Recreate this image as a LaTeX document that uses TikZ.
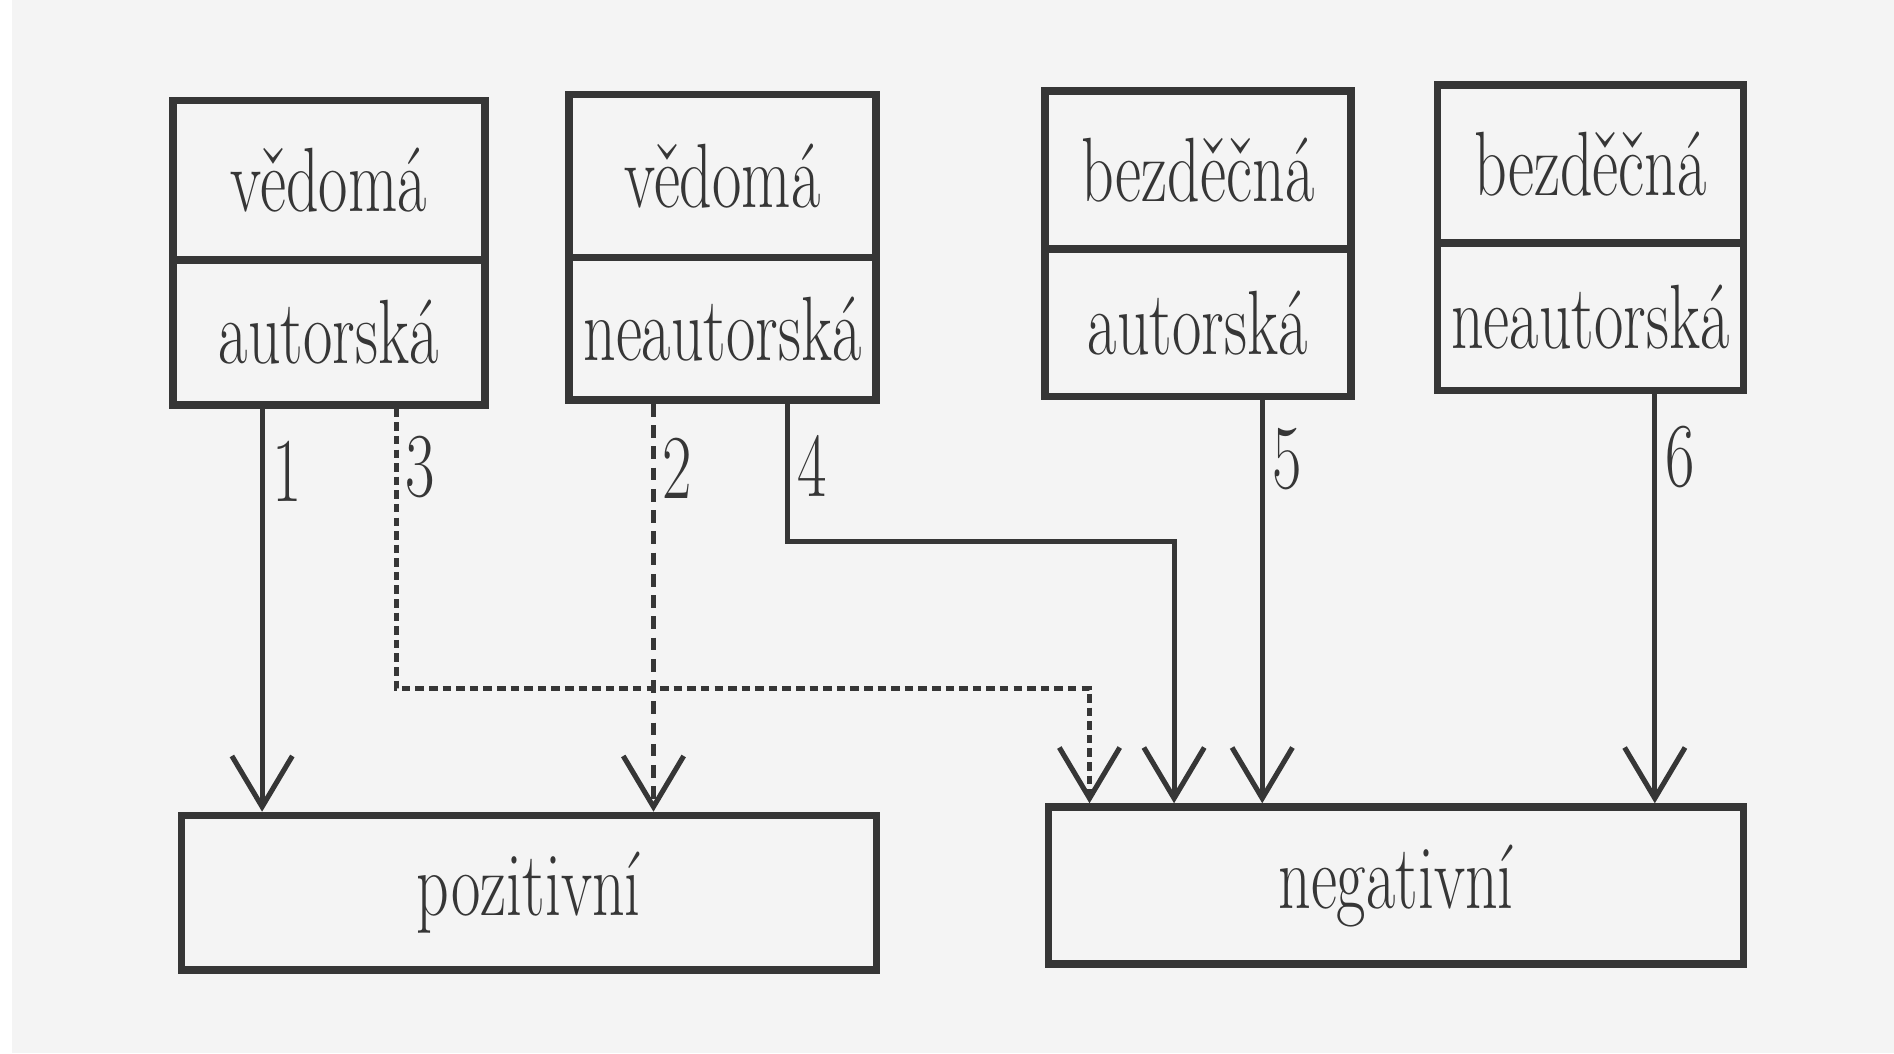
\documentclass[tikz,border=0pt]{standalone}
\usepackage{fontspec}
\usepackage{graphicx}
\usetikzlibrary{arrows.meta}
\definecolor{ink}{HTML}{363636}
\definecolor{paper}{HTML}{F4F4F4}
\newcommand\narrowtxt[1]{\scalebox{0.7}[1]{#1}}
\begin{document}
\begin{tikzpicture}[x=0.01cm,y=-0.01cm,
  cell/.style={draw=ink, line width=1.8pt, inner sep=0pt, anchor=north west,
    text=ink, font=\fontsize{21.5}{25}\selectfont},
  lab/.style={text=ink, inner sep=0pt, font=\fontsize{21.5}{25}\selectfont},
  conn/.style={draw=ink, line width=1.2pt,
    -{Straight Barb[length=0.42cm,width=0.5cm,line width=1.2pt]}},
  dashedconn/.style={conn, dash pattern=on 3pt off 2pt},
  dottedconn/.style={conn, dash pattern=on 2pt off 1.2pt}]
\useasboundingbox (0,0) rectangle (1568,872);
\fill[paper] (0,0) rectangle (1568,872);
\fill[white] (0,0) rectangle (10,872);

% upper boxes
\node[cell, minimum width=2.58cm, minimum height=1.32cm] (v1) at (140,80) {\narrowtxt{vědomá}};
\node[cell, minimum width=2.58cm, minimum height=1.20cm] (a1) at (140,212) {\narrowtxt{autorská}};
\node[cell, minimum width=2.54cm, minimum height=1.35cm] (v2) at (468,75) {\narrowtxt{vědomá}};
\node[cell, minimum width=2.54cm, minimum height=1.18cm] (a2) at (468,210) {\narrowtxt{neautorská}};
\node[cell, minimum width=2.53cm, minimum height=1.31cm] (v3) at (862,72) {\narrowtxt{bezděčná}};
\node[cell, minimum width=2.53cm, minimum height=1.22cm] (a3) at (862,203) {\narrowtxt{autorská}};
\node[cell, minimum width=2.53cm, minimum height=1.31cm] (v4) at (1187,67) {\narrowtxt{bezděčná}};
\node[cell, minimum width=2.53cm, minimum height=1.22cm] (a4) at (1187,198) {\narrowtxt{neautorská}};

% lower boxes
\node[cell, minimum width=5.75cm, minimum height=1.28cm] (pos) at (147,672) {\narrowtxt{pozitivní}};
\node[cell, minimum width=5.75cm, minimum height=1.30cm] (neg) at (865,665) {\narrowtxt{negativní}};

% columns and bends
\coordinate (c1) at (217,0);
\coordinate (c2) at (541,0);
\coordinate (c3) at (328,570);
\coordinate (c3b) at (902,570);
\coordinate (c4) at (652,448);
\coordinate (c4b) at (972,448);
\coordinate (c5) at (1045,0);
\coordinate (c6) at (1370,0);

% connectors
\draw[conn] (a1.south -| c1) -- (pos.north -| c1);
\draw[dashedconn] (a2.south -| c2) -- (pos.north -| c2);
\draw[dottedconn] (a1.south -| c3) -- (c3) -- (c3b) -- (neg.north -| c3b);
\draw[conn] (a2.south -| c4) -- (c4) -- (c4b) -- (neg.north -| c4b);
\draw[conn] (a3.south -| c5) -- (neg.north -| c5);
\draw[conn] (a4.south -| c6) -- (neg.north -| c6);

% labels
\node[lab] (l1) at (238,390) {\narrowtxt{1}};
\node[lab] (l3) at (348,387) {\narrowtxt{3}};
\node[lab] (l2) at (561,388) {\narrowtxt{2}};
\node[lab] (l4) at (672,386) {\narrowtxt{4}};
\node[lab] (l5) at (1066,380) {\narrowtxt{5}};
\node[lab] (l6) at (1391,378) {\narrowtxt{6}};
\end{tikzpicture}
\end{document}
